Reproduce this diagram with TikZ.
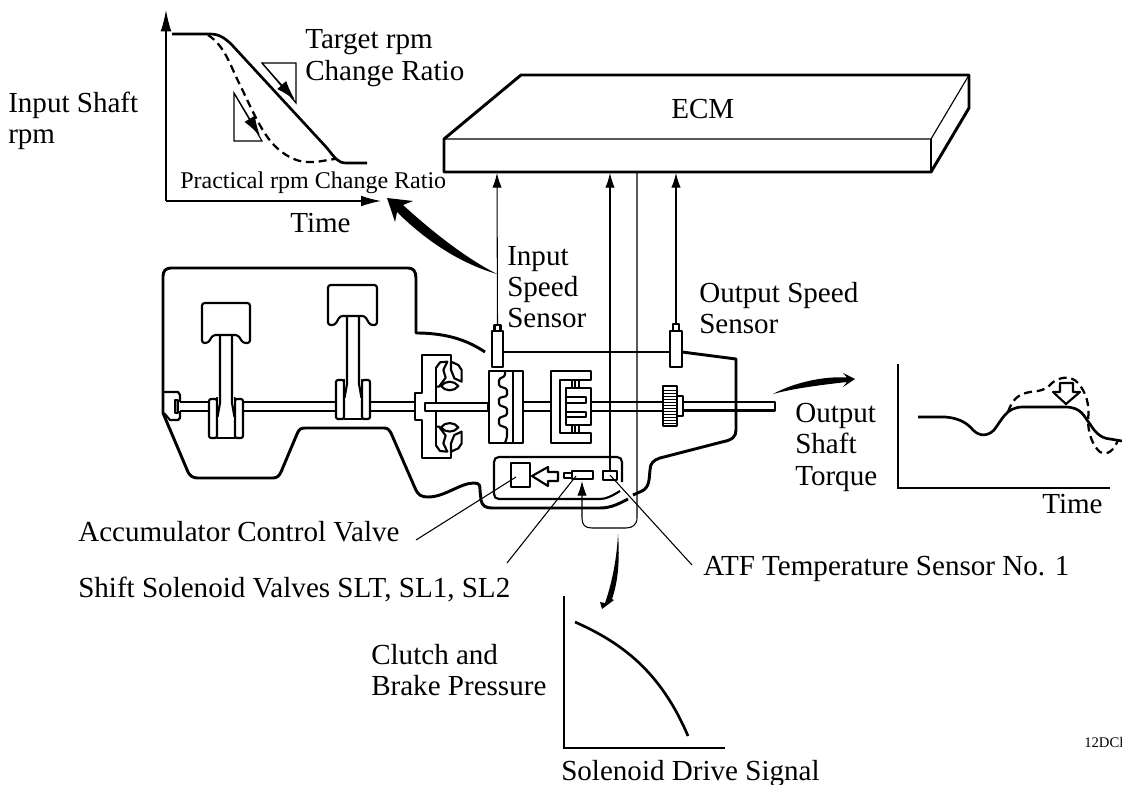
\documentclass[tikz,border=0pt]{standalone}
\usepackage{fontspec}
\setmainfont{Liberation Serif}
\usetikzlibrary{arrows.meta}
\tikzset{
  thick line/.style={line width=2.2pt,line join=round},
  mid line/.style={line width=1.6pt,line join=round},
  thin line/.style={line width=0.85pt},
  wire/.style={line width=0.8pt},
  wire arrow/.style={wire,-{Latex[length=11pt,width=7pt]}},
  label/.style={anchor=base west,inner sep=0pt,font=\fontsize{21.8}{24}\selectfont},
  small label/.style={anchor=base west,inner sep=0pt,font=\fontsize{18}{20}\selectfont},
  tiny label/.style={anchor=base west,inner sep=0pt,font=\fontsize{11}{13}\selectfont},
  dash curve/.style={line width=1.7pt,dash pattern=on 6pt off 3.6pt},
  solid curve/.style={line width=2pt},
}
\begin{document}
\begin{tikzpicture}[x=0.75pt,y=-0.75pt]
\useasboundingbox (0,0) rectangle (1122,785);

% ECM
\draw[thick line] (444,139) -- (521,75) -- (969,75) -- (969,108) -- (931,172) -- (444,172) -- cycle;
\draw[thin line] (444,139) -- (931,139) -- (969,75);
\draw[thin line] (931,139) -- (931,172);
\node[label] (ecmt) at (671,118) {ECM};
\coordinate (ecmA) at (497,173);
\coordinate (ecmB) at (610,173);
\coordinate (ecmC) at (637,173);
\coordinate (ecmD) at (676,173);

% body outline
\draw[thick line] (485,352) .. controls (470,342) and (450,333) .. (416,333)
  -- (416,278) .. controls (416,271) and (413,268) .. (408,268)
  -- (171,268) .. controls (166,268) and (163,271) .. (163,276)
  -- (163,413) -- (188,472) .. controls (190,476) and (193,478) .. (198,478)
  -- (273,478) .. controls (277,478) and (279,476) .. (281,472)
  -- (297,434) .. controls (299,429) and (301,428) .. (305,428)
  -- (384,428) .. controls (388,428) and (389,430) .. (391,433)
  -- (415,488) .. controls (418,495) and (421,497) .. (428,497)
  .. controls (445,497) and (460,483) .. (474,483)
  .. controls (480,483) and (480,486) .. (480,490) -- (481,500)
  .. controls (482,506) and (486,508) .. (492,508)
  -- (600,508) .. controls (612,508) and (620,503) .. (628,499);
\draw[thick line] (633,495) -- (642,491) .. controls (650,487) and (649,478) .. (650,470)
  .. controls (650,463) and (654,460) .. (660,458)
  -- (722,442) .. controls (732,440) and (736,437) .. (736,430)
  -- (736,359) -- (682,352);
\draw[thick line] (492,352) -- (670,352);

% shaft
\draw[mid line] (180,402) -- (415,402) (180,411) -- (415,411);
\draw[mid line] (523,402) -- (551,402) (523,411) -- (551,411);
\draw[mid line] (591,402) -- (663,402) (591,411) -- (663,411);
\draw[mid line] (683,402) -- (775,402) -- (775,410.5) -- (683,410.5);
% left shaft end
\draw[mid line,fill=white] (164,392) -- (178,392) -- (180,395) -- (180,402) (180,411) -- (180,418) -- (178,420) -- (170,420) -- (164,413);
\draw[mid line,fill=gray] (175,400) rectangle (178,413);

% piston 1
\draw[mid line,fill=white] (217,398) rectangle (235,438);
\draw[mid line,fill=white,rounded corners=1.5pt] (209,399) rectangle (217,438);
\draw[mid line,fill=white,rounded corners=1.5pt] (235,399) rectangle (243,438);
\fill[white] (218,396) rectangle (234,420);
\draw[mid line] (220,335) -- (220,403) -- (217.5,417) (232,335) -- (232,403) -- (234.5,417);
\draw[mid line,rounded corners=2pt] (202,343) -- (202,303) -- (250,303) -- (250,343) -- (243,343) -- (238,335) -- (213,335) -- (208,343) -- cycle;

% piston 2
\draw[mid line,fill=white] (344,380) rectangle (362,419);
\draw[mid line,fill=white,rounded corners=1.5pt] (336,380) rectangle (344,419);
\draw[mid line,fill=white,rounded corners=1.5pt] (362,380) rectangle (370,419);
\fill[white] (345,378) rectangle (361,400);
\draw[mid line] (347,316) -- (347,384) -- (344.5,398) (359,316) -- (359,384) -- (361.5,398);
\draw[mid line,rounded corners=2pt] (328,325) -- (328,285) -- (377,285) -- (377,325) -- (370,325) -- (365,316) -- (340,316) -- (335,325) -- cycle;

% torque converter
\draw[mid line] (451,362) -- (451,355) -- (422,355) -- (422,393) -- (415,393) -- (415,420) -- (422,420) -- (422,458) -- (451,458) -- (451,451);
\draw[mid line,fill=white] (425,403) rectangle (488,411);
\draw[mid line] (436,368) -- (436,403) (436,411) -- (436,445);
\begin{scope}[shift={(415,345)},x=0.25pt,y=-0.25pt]
  \foreach \sgn/\off in {1/0,-1/370}{
  \begin{scope}[yshift={-\off*0.25pt},yscale=\sgn]
  \draw[mid line] (62,70) -- (75,52) -- (97,50) -- (85,75) -- (92,98) -- (72,125) -- (62,125);
  \draw[mid line] (108,50) -- (130,60) -- (140,75) -- (140,110) -- (118,100) -- (108,75) -- cycle;
  \draw[mid line] (78,123) .. controls (90,106) and (118,106) .. (130,123) .. controls (118,140) and (90,140) .. (78,123) -- cycle;
  \end{scope}}
\end{scope}

% clutch 1
\draw[mid line] (489,371) rectangle (523,443);
\draw[mid line] (513,371) -- (513,443);
\draw[mid line,rounded corners=1pt] (505,371) -- (505,376) -- (499,379) -- (499,386) -- (507,389) -- (507,396) -- (499,398) -- (499,405) -- (507,408) -- (507,415) -- (499,418) -- (499,425) -- (507,428) -- (507,437) -- (505,443);
% clutch 2
\draw[mid line] (591,371) -- (551,371) -- (551,443) -- (591,443) -- (591,433) -- (560,433) -- (560,380) -- (591,380) -- cycle;
\draw[mid line] (566,397) -- (566,388) -- (591,388) -- (591,425) -- (566,425) -- (566,397);
\draw[mid line] (566,397) -- (586,397) -- (586,403) -- (566,403) (566,412) -- (586,412) -- (586,417) -- (566,417) (566,403) -- (566,412);
\draw[thin line] (572,380) -- (572,388) (575,380) -- (575,388) (579,380) -- (579,388) (572,425) -- (572,433) (575,425) -- (575,433) (579,425) -- (579,433);

% gear
\draw[mid line,fill=white] (663,386) rectangle (677,426);
\foreach \yy in {390,393,...,423} \draw[line width=0.5pt] (663,\yy) -- (677,\yy);
\draw[mid line,fill=white] (677,396) rectangle (683,416);

% sensors
\draw[mid line,fill=white] (492,331) rectangle (503,367);
\draw[mid line,fill=white] (494.5,325) rectangle (500.5,331);
\coordinate (sensIn) at (497.5,325);
\draw[mid line,fill=white] (670,331) rectangle (682,367);
\draw[mid line,fill=white] (673,324) rectangle (679,331);
\coordinate (sensOut) at (676,324);

% valve body
\draw[mid line] (622,482) -- (622,462) .. controls (622,459) and (620,457) .. (617,457)
  -- (499,457) .. controls (496,457) and (494,459) .. (494,462)
  -- (494,494) .. controls (494,497) and (496,499) .. (499,499)
  -- (600,499) .. controls (606,499) and (612,496) .. (620,491);
\draw[mid line] (511,463) rectangle (530,487);
\draw[mid line,fill=white] (532,476) -- (548,467) -- (548,472) -- (558,472) -- (558,481) -- (548,481) -- (548,486) -- cycle;
\draw[mid line] (564,473) rectangle (572,478);
\draw[mid line] (572,471) rectangle (593,479);
\draw[mid line] (603,471) rectangle (617,480);
\coordinate (valveSensor) at (610,471);
\coordinate (solenoid) at (582,481);

% wires
\draw[wire arrow] (sensIn) -- (ecmA);
\draw[wire arrow] (valveSensor) -- (ecmB);
\draw[wire arrow] (sensOut) -- (ecmD);
\draw[wire arrow] (ecmC) -- (637,518) .. controls (637,525) and (632,528) .. (626,528) -- (592,528) .. controls (585,528) and (582,525) .. (582,518) -- (solenoid);

% leaders
\coordinate (acvEnd) at (516,477); \coordinate (acvFree) at (416,540);
\coordinate (ssvEnd) at (576,476); \coordinate (ssvFree) at (507,563);
\coordinate (atfEnd) at (610,475); \coordinate (atfFree) at (692,565);
\draw[wire] (acvEnd) -- (acvFree);
\draw[wire] (ssvEnd) -- (ssvFree);
\draw[wire] (atfEnd) -- (atfFree);

% top-left graph
\draw[thin line,-{Latex[length=16pt,width=8pt]}] (166,201) -- (166,10);
\draw[thin line,-{Latex[length=15pt,width=8pt]}] (166,201) -- (381,201);
\draw[solid curve] (172,34) -- (210,34) .. controls (219,34) and (225,38) .. (232,45) -- (327,148) .. controls (335,158) and (338,163) .. (346,163) -- (367,163);
\draw[dash curve] (208,35) .. controls (225,46) and (230,65) .. (240,85) .. controls (250,105) and (262,135) .. (277,148) .. controls (288,158) and (300,163) .. (312,162) .. controls (320,162) and (326,160) .. (335,159);
\draw[thin line] (262,63) -- (296,63) -- (296,103) -- cycle;
\draw[thin line,-{Latex[length=15pt,width=9pt]}] (262,63) -- (295,100);
\draw[thin line] (234,93) -- (234,141) -- (262,141) -- cycle;
\draw[thin line,-{Latex[length=15pt,width=9pt]}] (234,93) -- (260,136);

% thick arrows
\fill[black] (387,198) -- (413,201) -- (403,205) .. controls (425,225) and (460,255) .. (497,274) .. controls (455,262) and (420,235) .. (397,212) -- (395,222) -- cycle;
\fill[black] (855,379) -- (843,373) -- (847,377.5) .. controls (825,376) and (795,382) .. (773,394) .. controls (795,388) and (825,384.5) .. (847,382) -- (843,387) -- cycle;
\fill[black] (602,609) -- (600,602) -- (605,603) .. controls (613,580) and (617,555) .. (618,534) .. controls (620,560) and (618,582) .. (612,599) -- (614,600) -- cycle;

% right graph
\draw[thin line] (898,364) -- (898,488) -- (1110,488);
\draw[dash curve] (1008,412) .. controls (1012,400) and (1018,394) .. (1030,392) .. controls (1040,391) and (1046,390) .. (1052,383) .. controls (1058,378) and (1070,374) .. (1078,383) .. controls (1086,392) and (1090,405) .. (1088,420) .. controls (1088,432) and (1092,445) .. (1100,452) .. controls (1108,456) and (1114,450) .. (1118,440);
\draw[solid curve] (918,417) -- (945,417) .. controls (960,418) and (968,424) .. (973,430) .. controls (980,437) and (988,436) .. (994,430) .. controls (1002,420) and (1006,407) .. (1023,407) -- (1065,407) .. controls (1082,407) and (1084,417) .. (1090,424) .. controls (1095,432) and (1100,438) .. (1110,439) -- (1122,441);
\draw[mid line,fill=white] (1066,404) -- (1053,392) -- (1060,392) -- (1060,383) -- (1073,383) -- (1073,392) -- (1080,392) -- cycle;

% bottom graph
\draw[thin line] (564,596) -- (564,748) -- (725,748);
\draw[solid curve] (575,622) .. controls (620,642) and (660,670) .. (688,736);

% labels
\node[label] (ishaft) at (8,112) {Input Shaft};
\node[label] (irpm) at (8,143) {rpm};
\node[label] (targ) at (305,48) {Target rpm};
\node[label] (chg) at (305,80) {Change Ratio};
\node[small label] (prac) at (180,188) {Practical rpm Change Ratio};
\node[label] (time1) at (290,232) {Time};
\node[label] (is1) at (507,265) {Input};
\node[label] (is2) at (507,296) {Speed};
\node[label] (is3) at (507,327) {Sensor};
\node[label] (os1) at (699,302) {Output Speed};
\node[label] (os2) at (699,333) {Sensor};
\node[label] (ot1) at (795,422) {Output};
\node[label] (ot2) at (795,453) {Shaft};
\node[label] (ot3) at (795,485) {Torque};
\node[label] (time2) at (1042,513) {Time};
\node[label] (acv) at (78,541) {Accumulator Control Valve};
\node[label] (ssv) at (78,597) {Shift Solenoid Valves SLT, SL1, SL2};
\node[label] (atf) at (703,575) {ATF Temperature Sensor No. 1};
\node[label] (cb1) at (371,664) {Clutch and};
\node[label] (cb2) at (371,695) {Brake Pressure};
\node[label] (sds) at (561,780) {Solenoid Drive Signal};
\node[tiny label] (code) at (1084,747) {12DCl};
\end{tikzpicture}
\end{document}
